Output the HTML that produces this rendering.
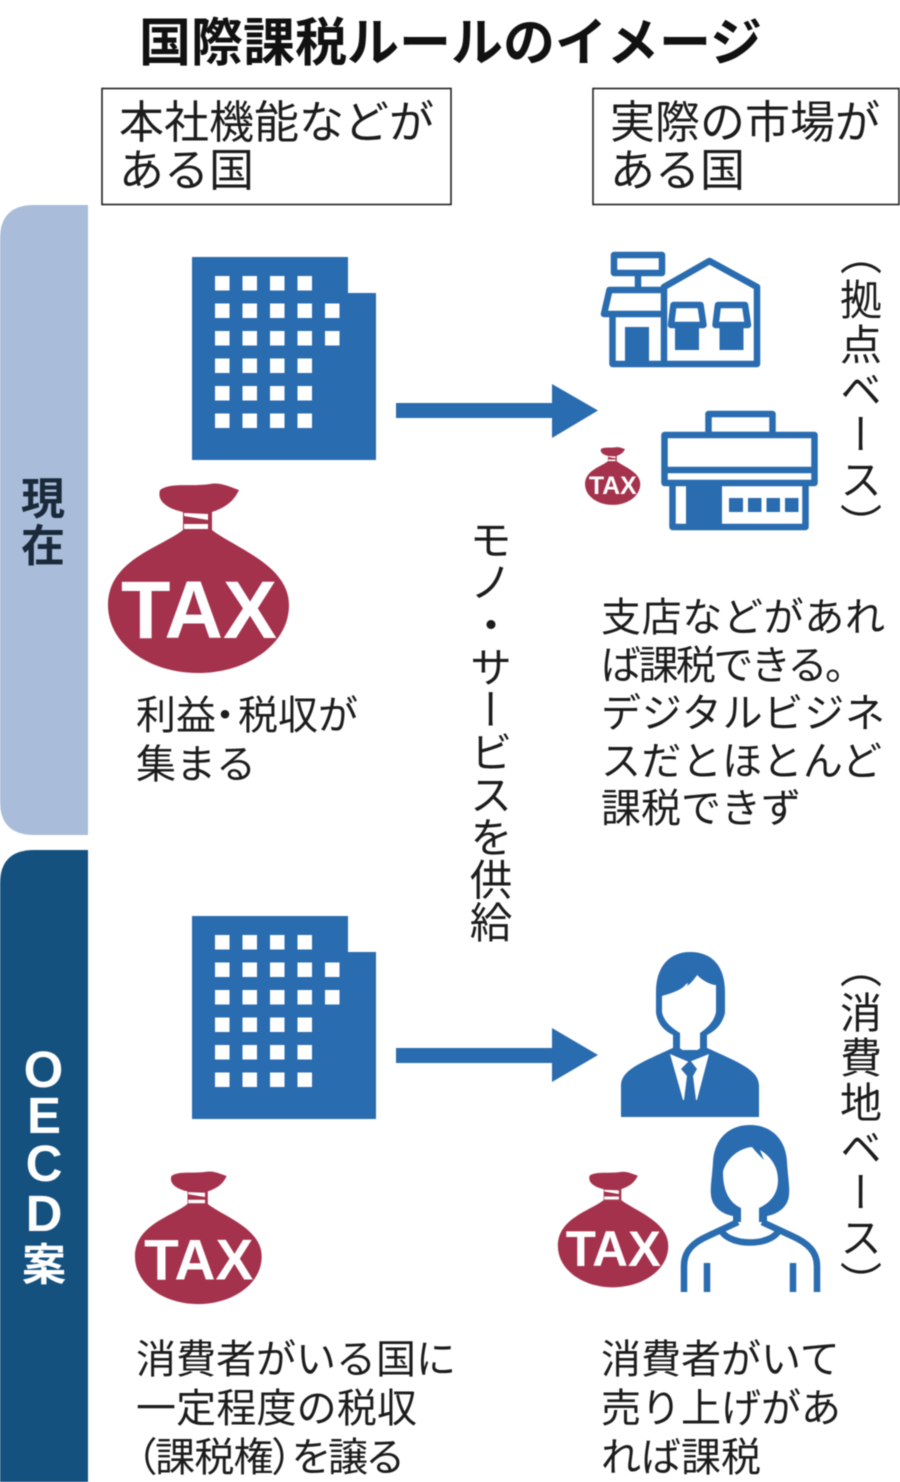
<!DOCTYPE html>
<html lang="ja"><head><meta charset="utf-8"><title>国際課税ルールのイメージ</title>
<style>
html,body{margin:0;padding:0;background:#fff;width:900px;height:1482px;overflow:hidden}
svg{display:block;filter:blur(.4px)}
text{font-family:"Liberation Sans","Noto Sans CJK JP",sans-serif;fill:#1c1c1c}
.b{font-size:45px}
.t{font-size:40px}
.v{writing-mode:vertical-rl}
.tax{font-family:"Liberation Sans",sans-serif;font-size:82px;font-weight:700;fill:#fff;text-anchor:middle}
</style></head><body>
<svg width="900" height="1482" viewBox="0 0 900 1482" xmlns="http://www.w3.org/2000/svg">
<rect width="900" height="1482" fill="#fff"/>
<text x="139" y="61" font-size="52" font-weight="700" style="fill:#111">国際課税ルールのイメージ</text>
<rect x="102" y="88.500" width="349" height="116" fill="#fff" stroke="#222" stroke-width="1.600"/>
<rect x="593" y="88.500" width="306" height="116" fill="#fff" stroke="#222" stroke-width="1.600"/>
<text class="b" x="119" y="138">本社機能などが</text>
<text class="b" x="119" y="186">ある国</text>
<text class="b" x="610" y="138" textLength="270">実際の市場が</text>
<text class="b" x="610" y="186">ある国</text>

<path d="M88 205H34Q0 205 0 239V801Q0 835 34 835H88Z" fill="#a9bdda"/>
<path d="M88 850H34Q0 850 0 884V1482H88Z" fill="#14517f"/>
<text x="43" y="514" font-size="44" font-weight="700" text-anchor="middle" style="fill:#1a2a3a">現</text>
<text x="43" y="561" font-size="44" font-weight="700" text-anchor="middle" style="fill:#1a2a3a">在</text>
<g font-size="51" font-weight="700" text-anchor="middle" style="font-family:'Liberation Sans',sans-serif">
<text x="43.500" y="1087" style="fill:#fff">O</text>
<text x="44" y="1133" style="fill:#fff">E</text>
<text x="44" y="1181" style="fill:#fff">C</text>
<text x="44" y="1231" style="fill:#fff">D</text>
</g>
<text x="44" y="1280" font-size="44" font-weight="700" text-anchor="middle" style="fill:#fff">案</text>

<!-- buildings -->
<g fill="#2a6cb0">
<path d="M192 257H348V293H376V460H192Z"/>
<path d="M192 916H348V952H376V1119H192Z"/>
<path d="M396 403H552V384L598 410.500L552 438V418H396Z"/>
<path d="M396 1048H552V1028L598 1055L552 1082V1063H396Z"/>
</g>
<g fill="#fff">
<rect x="215" y="276" width="14.500" height="14.500"/><rect x="242.500" y="276" width="14.500" height="14.500"/><rect x="270" y="276" width="14.500" height="14.500"/><rect x="297.500" y="276" width="14.500" height="14.500"/>
<rect x="215" y="303.500" width="14.500" height="14.500"/><rect x="242.500" y="303.500" width="14.500" height="14.500"/><rect x="270" y="303.500" width="14.500" height="14.500"/><rect x="297.500" y="303.500" width="14.500" height="14.500"/><rect x="325" y="303.500" width="14.500" height="14.500"/>
<rect x="215" y="331" width="14.500" height="14.500"/><rect x="242.500" y="331" width="14.500" height="14.500"/><rect x="270" y="331" width="14.500" height="14.500"/><rect x="297.500" y="331" width="14.500" height="14.500"/><rect x="325" y="331" width="14.500" height="14.500"/>
<rect x="215" y="358.500" width="14.500" height="14.500"/><rect x="242.500" y="358.500" width="14.500" height="14.500"/><rect x="270" y="358.500" width="14.500" height="14.500"/><rect x="297.500" y="358.500" width="14.500" height="14.500"/>
<rect x="215" y="386" width="14.500" height="14.500"/><rect x="242.500" y="386" width="14.500" height="14.500"/><rect x="270" y="386" width="14.500" height="14.500"/><rect x="297.500" y="386" width="14.500" height="14.500"/>
<rect x="215" y="413.500" width="14.500" height="14.500"/><rect x="242.500" y="413.500" width="14.500" height="14.500"/><rect x="270" y="413.500" width="14.500" height="14.500"/><rect x="297.500" y="413.500" width="14.500" height="14.500"/>
<rect x="215" y="935" width="14.500" height="14.500"/><rect x="242.500" y="935" width="14.500" height="14.500"/><rect x="270" y="935" width="14.500" height="14.500"/><rect x="297.500" y="935" width="14.500" height="14.500"/>
<rect x="215" y="962.500" width="14.500" height="14.500"/><rect x="242.500" y="962.500" width="14.500" height="14.500"/><rect x="270" y="962.500" width="14.500" height="14.500"/><rect x="297.500" y="962.500" width="14.500" height="14.500"/><rect x="325" y="962.500" width="14.500" height="14.500"/>
<rect x="215" y="990" width="14.500" height="14.500"/><rect x="242.500" y="990" width="14.500" height="14.500"/><rect x="270" y="990" width="14.500" height="14.500"/><rect x="297.500" y="990" width="14.500" height="14.500"/><rect x="325" y="990" width="14.500" height="14.500"/>
<rect x="215" y="1017.500" width="14.500" height="14.500"/><rect x="242.500" y="1017.500" width="14.500" height="14.500"/><rect x="270" y="1017.500" width="14.500" height="14.500"/><rect x="297.500" y="1017.500" width="14.500" height="14.500"/>
<rect x="215" y="1045" width="14.500" height="14.500"/><rect x="242.500" y="1045" width="14.500" height="14.500"/><rect x="270" y="1045" width="14.500" height="14.500"/><rect x="297.500" y="1045" width="14.500" height="14.500"/>
<rect x="215" y="1072.500" width="14.500" height="14.500"/><rect x="242.500" y="1072.500" width="14.500" height="14.500"/><rect x="270" y="1072.500" width="14.500" height="14.500"/><rect x="297.500" y="1072.500" width="14.500" height="14.500"/>
</g>

<!-- house shop -->
<g fill="none" stroke="#2a6cb0" stroke-width="6.500" stroke-linejoin="round">
<rect x="614" y="255" width="48" height="18"/>
<path d="M638 273V290"/>
<path d="M664 290H609.500L604 314H664"/>
<path d="M612.500 314V364H757V287L709.500 261L664 287V364"/>
<path d="M673.500 305H700.500L703.500 325H671Z"/>
<path d="M718 305H745L748 325H715.500Z"/>
</g>
<g fill="#2a6cb0">
<rect x="625" y="327" width="24" height="36"/>
<rect x="675" y="325" width="24" height="25"/>
<rect x="719.500" y="325" width="24" height="25"/>
</g>
<!-- store -->
<g fill="none" stroke="#2a6cb0" stroke-width="6.500" stroke-linejoin="round">
<rect x="708.500" y="414" width="64" height="21"/>
<rect x="664.500" y="435" width="150" height="48" fill="#fff"/>
<path d="M664.500 470H814.500"/>
<path d="M672.500 483V527H805.500V483"/>
</g>
<g fill="#2a6cb0">
<rect x="686" y="484" width="36" height="43"/>
<rect x="729" y="498" width="14" height="14"/>
<rect x="748" y="498" width="13.500" height="14"/>
<rect x="766.500" y="498" width="13.500" height="14"/>
<rect x="785" y="498" width="13.500" height="14"/>
</g>

<!-- man -->
<path d="M621 1117V1086C621 1070 640 1063 675 1047H705C740 1063 759 1070 759 1086V1117Z" fill="#2a6cb0"/>
<path d="M656 992C656 966 670 952 690 952C712 952 725 966 725 992V1013C722 1025 715 1031 707 1035V1050H673V1035C665 1031 658 1025 656 1013Z" fill="#2a6cb0"/>
<path d="M662 996C672 993 682 990 686 984L688 983 687 986C690 984 694 980 697 975C703 981 711 985 716 985V1012C714 1022 707 1028 700 1033V1050H680V1033C672 1028 664 1022 662 1012Z" fill="#fff"/>
<path d="M670 1054L689 1062L709 1054L697 1100H683Z" fill="#fff"/>
<path d="M675 1048L690 1058L705 1048" fill="none" stroke="#2a6cb0" stroke-width="5"/>
<path d="M690 1060L697 1069L693 1076L696 1100L690 1106L684 1100L687 1076L681 1069Z" fill="#2a6cb0"/>

<!-- woman -->
<path d="M750 1125C772 1125 786 1140 787 1162C788 1178 790 1188 789 1195C788 1207 778 1214 767 1216L767 1222H733V1216C722 1214 712 1207 711 1195C710 1188 712 1178 713 1162C714 1140 728 1125 750 1125Z" fill="#2a6cb0"/>
<path d="M723 1172C726 1158 740 1148 752 1147C756 1152 760 1156 764 1160L760 1150C770 1156 778 1166 778 1180C778 1194 770 1203 759 1208V1228H741V1208C730 1203 723 1192 723 1172Z" fill="#fff"/>
<path d="M738 1222L708 1236C692 1243 684 1252 684 1266V1292M762 1222L792 1236C808 1243 817 1252 817 1266V1292M722 1232C732 1246 768 1246 778 1232M707 1263V1292M793 1263V1292" fill="none" stroke="#2a6cb0" stroke-width="6.500"/>

<!-- bags -->
<g transform="translate(100,470)">
<path d="M83 60C60 78 8 90 8 135C8 175 50 203 98 203C146 203 189 175 189 135C189 95 135 78 112 60Z" fill="#a5324c"/>
<path d="M83 40H112V60H83Z" fill="#a5324c"/><path d="M84 46L108 50V44L84 43ZM84 54H108V59H84Z" fill="#fff"/>
<path d="M60 20C70 12 92 17 110 14C120 12 130 17 139 20C135 28 130 36 112 42H83C65 38 57 30 60 20Z" fill="#a5324c"/>
<text class="tax" x="99" y="168" textLength="156" lengthAdjust="spacingAndGlyphs">TAX</text>
</g>
<g transform="translate(129.400,1162) scale(.7)">
<path d="M83 60C60 78 8 90 8 135C8 175 50 203 98 203C146 203 189 175 189 135C189 95 135 78 112 60Z" fill="#a5324c"/>
<path d="M83 40H112V60H83Z" fill="#a5324c"/><path d="M84 46L108 50V44L84 43ZM84 54H108V59H84Z" fill="#fff"/>
<path d="M60 20C70 12 92 17 110 14C120 12 130 17 139 20C135 28 130 36 112 42H83C65 38 57 30 60 20Z" fill="#a5324c"/>
<text class="tax" x="99" y="168" textLength="156" lengthAdjust="spacingAndGlyphs">TAX</text>
</g>
<g transform="translate(553,1163.500) scale(.61)">
<path d="M83 60C60 78 8 90 8 135C8 175 50 203 98 203C146 203 189 175 189 135C189 95 135 78 112 60Z" fill="#a5324c"/>
<path d="M83 40H112V60H83Z" fill="#a5324c"/><path d="M84 46L108 50V44L84 43ZM84 54H108V59H84Z" fill="#fff"/>
<path d="M60 20C70 12 92 17 110 14C120 12 130 17 139 20C135 28 130 36 112 42H83C65 38 57 30 60 20Z" fill="#a5324c"/>
<text class="tax" x="99" y="168" textLength="156" lengthAdjust="spacingAndGlyphs">TAX</text>
</g>
<g transform="translate(582.600,443) scale(.305)">
<path d="M83 60C60 78 8 90 8 135C8 175 50 203 98 203C146 203 189 175 189 135C189 95 135 78 112 60Z" fill="#a5324c"/>
<path d="M83 40H112V60H83Z" fill="#a5324c"/><path d="M84 46L108 50V44L84 43ZM84 54H108V59H84Z" fill="#fff"/>
<path d="M60 20C70 12 92 17 110 14C120 12 130 17 139 20C135 28 130 36 112 42H83C65 38 57 30 60 20Z" fill="#a5324c"/>
<text class="tax" x="99" y="168" textLength="156" lengthAdjust="spacingAndGlyphs">TAX</text>
</g>

<!-- text -->
<text class="t" x="136" y="729"><tspan x="136">利益</tspan><tspan x="205">・</tspan><tspan x="238">税収が</tspan></text>
<text class="t" x="136" y="778">集まる</text>
<text class="t" x="601" y="631" textLength="284">支店などがあれ</text>
<text class="t" x="601" y="679" textLength="264">ば課税できる。</text>
<text class="t" x="601" y="727" textLength="284">デジタルビジネ</text>
<text class="t" x="601" y="775" textLength="281">スだとほとんど</text>
<text class="t" x="601" y="822">課税できず</text>
<text class="t" x="136" y="1373">消費者がいる国に</text>
<text class="t" x="136" y="1422" textLength="281">一定程度の税収</text>
<text class="t" x="136" y="1471" textLength="267" style="font-feature-settings:'palt'">（課税権）を譲る</text>
<text class="t" x="601" y="1373">消費者がいて</text>
<text class="t" x="601" y="1422">売り上げがあ</text>
<text class="t" x="601" y="1471">れば課税</text>

<text class="v" x="487" y="518" font-size="42.500">モノ・サービスを供給</text>
<text class="v" x="858" y="233" font-size="42" letter-spacing="3">（拠点ベース）</text>
<text class="v" x="858" y="946" font-size="42" letter-spacing="3">（消費地ベース）</text>
</svg>
</body></html>
